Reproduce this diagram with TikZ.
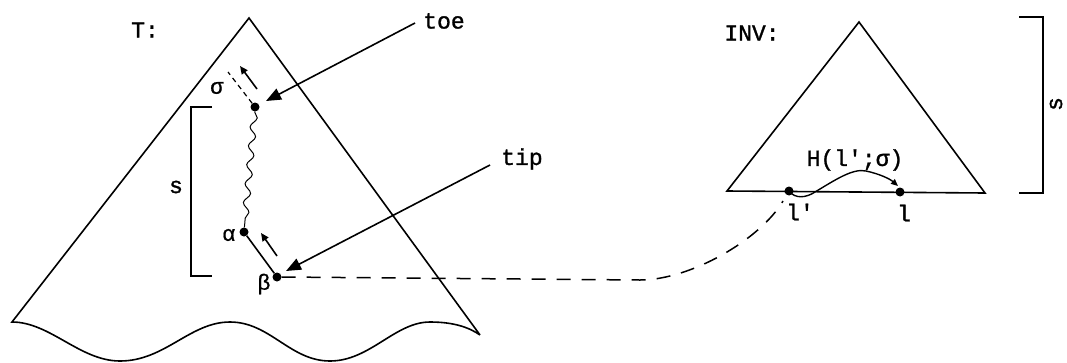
\documentclass[tikz,border=0pt]{standalone}
\usepackage{fontspec}
\setmainfont{Liberation Mono}[Ligatures=TeXOff,FakeBold=1.2]
\newfontfamily\grk{Liberation Sans}[FakeBold=0.8]
\usetikzlibrary{arrows.meta,decorations.pathmorphing}
\begin{document}
\begin{tikzpicture}[x=1pt,y=-1pt,
  ln/.style={line width=1.6pt},
  dotnode/.style={circle,fill=black,inner sep=0pt,minimum size=9pt},
  lbl/.style={font=\fontsize{23}{23}\selectfont,inner sep=0pt},
  glbl/.style={font=\grk\fontsize{22}{22}\selectfont,inner sep=0pt},
  bigarrow/.style={line width=1.6pt,-{Triangle[length=15pt,width=12pt]}},
  smallarrow/.style={line width=1.6pt,-{Triangle[length=8pt,width=7pt]}},
  dsh/.style={line width=1.5pt,dash pattern=on 14pt off 11pt}]
\useasboundingbox (0,0) rectangle (1067,362);

% ---- tree T ----
\coordinate (Ttop) at (249,18);
\coordinate (Tl) at (12,322);
\coordinate (Tr) at (480,335);
\draw[ln,line join=miter] (Tr) -- (Ttop) -- (Tl)
  .. controls (50,322) and (80,361) .. (120,361)
  .. controls (165,361) and (190,322) .. (230,322)
  .. controls (270,322) and (290,361) .. (330,361)
  .. controls (370,361) and (395,322) .. (430,322)
  .. controls (455,322) and (470,328) .. (Tr);

\node[lbl] (T) at (145,30) {T:};

% points on the path
\node[dotnode] (sig) at (255,107) {};
\node[dotnode] (alp) at (244,232) {};
\node[dotnode] (bet) at (277,277) {};
\node[glbl] (sigl) at (217,88) {σ};
\node[glbl] (alpl) at (229,235) {α};
\node[glbl] (betl) at (264,284) {β};

\draw[line width=1pt,decorate,decoration={snake,segment length=19pt,amplitude=3.2pt}] (sig) -- (alp);
\draw[ln] (alp) -- (bet);
\coordinate (sd) at (228,72);
\draw[line width=1.2pt,dash pattern=on 5pt off 4pt] (sig) -- (sd);
\coordinate (a1s) at (257,89);
\coordinate (a1e) at (240,66);
\draw[smallarrow] (a1s) -- (a1e);
\coordinate (a2s) at (277,256);
\coordinate (a2e) at (261,233);
\draw[smallarrow] (a2s) -- (a2e);

% bracket s
\coordinate (bl1) at (212,107);
\coordinate (bl2) at (191,107);
\coordinate (bl3) at (191,276);
\coordinate (bl4) at (212,276);
\draw[ln] (bl1) -- (bl2) -- (bl3) -- (bl4);
\node[lbl] (s1) at (176,187) {s};

% toe / tip
\node[lbl] (toe) at (444,21) {toe};
\coordinate (toeS) at (415,23);
\coordinate (toeE) at (266,101);
\draw[bigarrow] (toeS) -- (toeE);
\node[lbl] (tip) at (522,159) {tip};
\coordinate (tipS) at (490,165);
\coordinate (tipE) at (286,271);
\draw[bigarrow] (tipS) -- (tipE);

% ---- INV ----
\coordinate (Il) at (727,191);
\coordinate (Itop) at (859,22);
\coordinate (Ir) at (985,193);
\draw[ln,line join=miter] (Il) -- (Itop) -- (Ir) -- cycle;
\node[lbl] (INV) at (752,33) {INV:};
\node[dotnode] (lp) at (789,191) {};
\node[dotnode] (l) at (900,192) {};
\node[lbl] (lpl) at (800,212) {l'};
\node[lbl] (ll) at (904,213) {l};
\node[lbl] (H) at (855,160) {H(l';σ)};
\draw[line width=1.4pt,-{Triangle[length=7pt,width=6pt]}] (lp.center)
  .. controls (795,199) and (806,198) .. (815,192)
  .. controls (835,180) and (853,168) .. (866,171)
  .. controls (880,174) and (890,179) .. (898,186);

% dashed connector
\coordinate (dc) at (640,280);
\coordinate (dend) at (783,201);
\draw[dsh] (bet.east) -- (dc) .. controls (690,280) and (760,240) .. (dend);

% right bracket
\coordinate (rb1) at (1019,17);
\coordinate (rb2) at (1043,17);
\coordinate (rb3) at (1043,193);
\coordinate (rb4) at (1019,193);
\draw[ln] (rb1) -- (rb2) -- (rb3) -- (rb4);
\node[lbl,rotate=90] (s2) at (1056,104) {s};
\end{tikzpicture}
\end{document}
